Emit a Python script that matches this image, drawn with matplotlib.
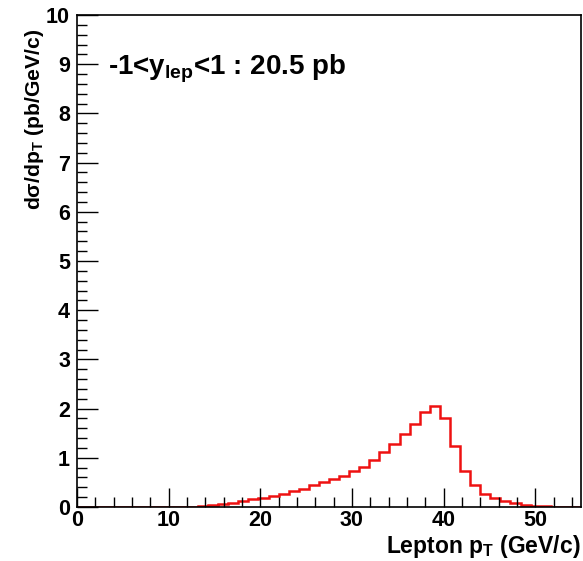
import numpy as np
import matplotlib
matplotlib.use("Agg")
import matplotlib.pyplot as plt
from matplotlib.ticker import MultipleLocator

# ---- data ----
bin_lo = 0.0
bin_hi = 55.0
n_bins = 50
values = [
    0.0, 0.0, 0.0, 0.0, 0.0, 0.0, 0.0, 0.0, 0.0, 0.0,
    0.005, 0.01, 0.02, 0.035, 0.055, 0.085, 0.115, 0.17, 0.19, 0.22,
    0.26, 0.32, 0.37, 0.44, 0.50, 0.56, 0.64, 0.74, 0.82, 0.96,
    1.11, 1.28, 1.48, 1.69, 1.93, 2.05, 1.80, 1.24, 0.74, 0.44,
    0.27, 0.19, 0.13, 0.09, 0.05, 0.03, 0.015, 0.008, 0.004, 0.002,
]
x_ticks = [0, 10, 20, 30, 40, 50]
y_ticks = [0, 1, 2, 3, 4, 5, 6, 7, 8, 9, 10]
annotation = r"-1<y$_{\mathregular{lep}}$<1 : 20.5 pb"
x_title = r"Lepton p$_{\mathregular{T}}$ (GeV/c)"
y_title = r"dσ/dp$_{\mathregular{T}}$ (pb/GeV/c)"

plt.rcParams['font.family'] = ['Liberation Sans', 'DejaVu Sans']
plt.rcParams['font.weight'] = 'bold'
plt.rcParams['mathtext.fontset'] = 'custom'
plt.rcParams['mathtext.rm'] = 'Liberation Sans:bold'
plt.rcParams['mathtext.it'] = 'Liberation Sans:bold'
plt.rcParams['mathtext.bf'] = 'Liberation Sans:bold'

W, H = 583, 561
fig = plt.figure(figsize=(W / 100, H / 100), dpi=100)
l, r, t, b = 77, 581, 15, 507
ax = fig.add_axes([l / W, (H - b) / H, (r - l) / W, (b - t) / H])

edges = np.linspace(bin_lo, bin_hi, n_bins + 1)
ax.stairs(values, edges, color='#ee1111', lw=1.8, baseline=0)

ax.set_xlim(bin_lo, bin_hi)
ax.set_ylim(0, 10)
ax.set_xticks(x_ticks)
ax.set_yticks(y_ticks)
ax.xaxis.set_minor_locator(MultipleLocator(2))
ax.yaxis.set_minor_locator(MultipleLocator(0.2))
ax.tick_params(which='both', direction='in', top=False, right=False,
               labelsize=15.5, width=1.0, color='black')
ax.tick_params(which='major', axis='x', length=14, pad=2.5)
ax.tick_params(which='minor', axis='x', length=7)
ax.tick_params(which='major', axis='y', length=15, pad=5)
ax.tick_params(which='minor', axis='y', length=7.5)
for lab in ax.get_xticklabels() + ax.get_yticklabels():
    lab.set_fontweight('bold')
for s in ax.spines.values():
    s.set_linewidth(1.2)

ax.set_xlabel(x_title, fontsize=16.5, fontweight='bold', loc='right')
ax.xaxis.set_label_coords(1.0, -0.053)
ax.set_ylabel(y_title, fontsize=15.2, fontweight='bold', loc='top')
ax.yaxis.set_label_coords(-0.062, 0.972)

ax.text(3.4, 8.9, annotation, fontsize=20, fontweight='bold',
        ha='left', va='center')

fig.savefig('out.png', dpi=100)
